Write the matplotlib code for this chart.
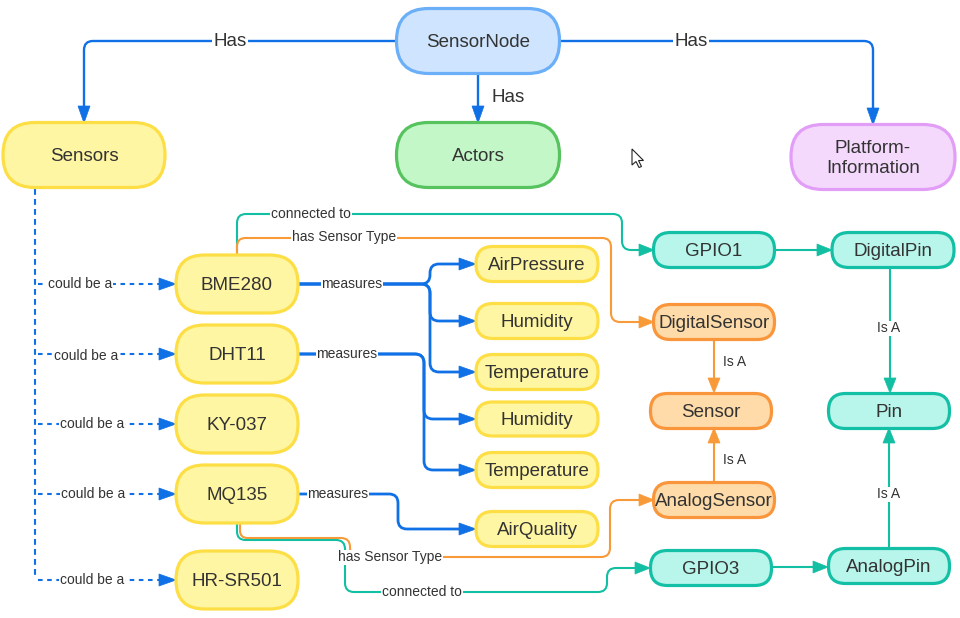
import matplotlib
matplotlib.use('Agg')
import matplotlib.pyplot as plt
from matplotlib.patches import FancyBboxPatch, PathPatch, Polygon
from matplotlib.path import Path
import numpy as np

plt.rcParams['font.family'] = ['Liberation Sans', 'DejaVu Sans']

# ---------------- data ----------------
node_ids = ['node', 'sensors', 'actors', 'platform', 'bme', 'dht', 'ky', 'mq', 'hr',
            'airp', 'hum1', 'temp1', 'hum2', 'temp2', 'airq',
            'gpio1', 'dpin', 'dsens', 'sensor', 'asens', 'pin', 'gpio3', 'apin']
node_labels = ['SensorNode', 'Sensors', 'Actors', 'Platform-\nInformation', 'BME280', 'DHT11',
               'KY-037', 'MQ135', 'HR-SR501', 'AirPressure', 'Humidity', 'Temperature',
               'Humidity', 'Temperature', 'AirQuality', 'GPIO1', 'DigitalPin', 'DigitalSensor',
               'Sensor', 'AnalogSensor', 'Pin', 'GPIO3', 'AnalogPin']
node_groups = ['blue', 'yellow', 'green', 'purple', 'yellow', 'yellow', 'yellow', 'yellow', 'yellow',
               'yellow', 'yellow', 'yellow', 'yellow', 'yellow', 'yellow',
               'teal', 'teal', 'orange', 'orange', 'orange', 'teal', 'teal', 'teal']

edge_src = ['node', 'node', 'node', 'sensors', 'sensors', 'sensors', 'sensors', 'sensors',
            'bme', 'bme', 'bme', 'dht', 'dht', 'mq', 'bme', 'bme', 'mq', 'mq',
            'gpio1', 'dpin', 'apin', 'gpio3', 'dsens', 'asens']
edge_dst = ['sensors', 'actors', 'platform', 'bme', 'dht', 'ky', 'mq', 'hr',
            'airp', 'hum1', 'temp1', 'hum2', 'temp2', 'airq', 'gpio1', 'dsens', 'asens', 'gpio3',
            'dpin', 'pin', 'pin', 'apin', 'sensor', 'sensor']
edge_labels = ['Has', 'Has', 'Has', 'could be a', 'could be a', 'could be a', 'could be a', 'could be a',
               'measures', '', '', 'measures', '', 'measures', 'connected to', 'has Sensor Type',
               'has Sensor Type', 'connected to', '', 'Is A', 'Is A', '', 'Is A', 'Is A']
edge_kind = ['blue', 'blue', 'blue', 'dash', 'dash', 'dash', 'dash', 'dash',
             'meas', 'meas', 'meas', 'meas', 'meas', 'meas', 'teal', 'orange', 'orange', 'teal',
             'teal', 'teal', 'teal', 'teal', 'orange', 'orange']

# ---------------- layout (pixels) ----------------
node_box = {
    'node': (478, 41, 163, 65), 'sensors': (84, 155, 162, 65), 'actors': (478, 155, 163, 65),
    'platform': (873, 157, 164, 65),
    'bme': (237, 284, 122, 58), 'dht': (237, 354, 122, 58), 'ky': (237, 424, 122, 58),
    'mq': (237, 494, 122, 58), 'hr': (237, 580, 122, 58),
    'airp': (537, 264, 122, 35), 'hum1': (537, 321, 122, 35), 'temp1': (537, 372, 122, 35),
    'hum2': (537, 419, 122, 34), 'temp2': (537, 470, 122, 35), 'airq': (537, 529, 122, 35),
    'gpio1': (714, 250, 121, 35), 'dpin': (893, 250, 122, 35), 'dsens': (714, 322, 121, 35),
    'sensor': (711, 411, 121, 35), 'asens': (714, 500, 121, 35), 'pin': (889, 411, 121, 35),
    'gpio3': (711, 568, 121, 35), 'apin': (889, 566, 121, 35),
}
routes = [
    [(397, 41), (84, 41), (84, 123)],
    [(478, 74), (478, 123)],
    [(560, 41), (873, 41), (873, 125)],
    [(38, 284), (176, 284)],
    [(38, 354), (176, 354)],
    [(38, 424), (176, 424)],
    [(38, 494), (176, 494)],
    [(38, 580), (176, 580)],
    [(298, 284), (430, 284), (430, 264), (476, 264)],
    [(298, 284), (430, 284), (430, 321), (476, 321)],
    [(298, 284), (430, 284), (430, 372), (476, 372)],
    [(298, 354), (424, 354), (424, 419), (476, 419)],
    [(298, 354), (424, 354), (424, 470), (476, 470)],
    [(298, 494), (398, 494), (398, 529), (476, 529)],
    [(237, 255), (237, 214), (622, 214), (622, 250), (654, 250)],
    [(237, 255), (237, 238), (611, 238), (611, 322), (654, 322)],
    [(240, 523), (240, 538), (350, 538), (350, 557), (610, 557), (610, 500), (654, 500)],
    [(237, 523), (237, 540), (345, 540), (345, 592), (607, 592), (607, 568), (650, 568)],
    [(775, 250), (832, 250)],
    [(890, 267), (890, 393)],
    [(889, 548), (889, 428)],
    [(771, 567), (828, 567)],
    [(714, 339), (714, 393)],
    [(714, 483), (714, 428)],
]
label_pos = [(230, 41, True), (508, 97, False), (691, 41, True),
             (80, 284, True), (86, 355, True), (92, 424, True), (93, 494, True), (92, 580, True),
             (352, 283, True), None, None, (347, 353, True), None, (338, 493, True),
             (311, 213, True), (344, 236, True), (390, 557, True), (422, 591, True),
             None, (889, 328, True), (889, 494, True), None, (735, 361, False), (735, 460, False)]

fills = {'blue': '#cfe4fe', 'yellow': '#fff6a3', 'green': '#c3f7c8', 'purple': '#f4d9fc',
         'teal': '#b8f5eb', 'orange': '#fedba8'}
edges_c = {'blue': '#6aaff8', 'yellow': '#fdde45', 'green': '#57c35e', 'purple': '#e29ef6',
           'teal': '#14c0a5', 'orange': '#f9953b'}
line_c = {'blue': '#1070e5', 'dash': '#1070e5', 'meas': '#1070e5', 'teal': '#12bfa2',
          'orange': '#f99a39'}
line_w = {'blue': 1.7, 'dash': 1.5, 'meas': 2.0, 'teal': 1.5, 'orange': 1.5}
TXT = '#333333'

fig = plt.figure(figsize=(9.6, 6.18), dpi=100)
ax = fig.add_axes([0, 0, 1, 1])
ax.set_xlim(0, 960)
ax.set_ylim(618, 0)
ax.axis('off')


def rounded_path(pts, r=9):
    pts = [np.array(p, float) for p in pts]
    verts = [pts[0]]
    codes = [Path.MOVETO]
    for i in range(1, len(pts) - 1):
        p0, p1, p2 = pts[i - 1], pts[i], pts[i + 1]
        l1 = np.linalg.norm(p1 - p0)
        l2 = np.linalg.norm(p2 - p1)
        d1 = (p1 - p0) / l1
        d2 = (p2 - p1) / l2
        rr = min(r, l1 / 2, l2 / 2)
        verts += [p1 - d1 * rr, p1, p1 + d2 * rr]
        codes += [Path.LINETO, Path.CURVE3, Path.CURVE3]
    verts.append(pts[-1])
    codes.append(Path.LINETO)
    return Path(verts, codes)


def arrowhead(p_prev, tip, color, L=16, hw=6):
    p_prev = np.array(p_prev, float)
    tip = np.array(tip, float)
    d = (tip - p_prev) / np.linalg.norm(tip - p_prev)
    n = np.array([-d[1], d[0]])
    base = tip - d * L
    ax.add_patch(Polygon([tip, base + n * hw, base - n * hw], closed=True,
                         fc=color, ec=color, lw=0.5, zorder=4))
    return base + d * 2


# nodes
for nid, lab, grp in zip(node_ids, node_labels, node_groups):
    cx, cy, w, h = node_box[nid]
    ax.add_patch(FancyBboxPatch((cx - w / 2, cy - h / 2), w, h,
                                boxstyle=f"round,pad=0,rounding_size={h / 2 - 0.5}",
                                fc=fills[grp], ec=edges_c[grp], lw=2.3, zorder=5))
    ax.text(cx, cy + 1.5, lab, ha='center', va='center', fontsize=13.5, color=TXT,
            linespacing=1.25, zorder=6)

# dashed trunk from Sensors
ax.plot([35, 35], [189, 578], color=line_c['dash'], lw=1.5, ls=(0, (2.8, 2.0)),
        solid_capstyle='butt', zorder=2)

# edges
for i, kind in enumerate(edge_kind):
    pts = list(routes[i])
    col = line_c[kind]
    L = 17 if kind in ('blue', 'dash', 'meas') else 15
    newend = arrowhead(pts[-2], pts[-1], col, L=L, hw=6)
    pts[-1] = tuple(newend)
    path = rounded_path(pts, r=9)
    ls = (0, (2.2, 2.2)) if kind == 'dash' else '-'
    ax.add_patch(PathPatch(path, fill=False, ec=col, lw=line_w[kind], ls=ls,
                           capstyle='butt', joinstyle='round', zorder=3))
    lp = label_pos[i]
    if lp is not None and edge_labels[i]:
        x, y, onl = lp
        fs = 13.5 if kind == 'blue' else 10
        bb = dict(boxstyle='square,pad=0.05', fc='white', ec='none') if onl else None
        ax.text(x, y + 0.5, edge_labels[i], ha='center', va='center', fontsize=fs, color=TXT,
                bbox=bb, zorder=4.5)

# mouse cursor
cur = np.array([(0, 0), (0, 16), (4, 12.5), (7, 18.5), (9.5, 17.5), (6.5, 11.5), (11.5, 11.5)])
ax.add_patch(Polygon(cur + np.array([632, 149]), closed=True, fc='white', ec='#222222',
                     lw=0.8, zorder=7))

fig.savefig('out.png', dpi=100, facecolor='white')
